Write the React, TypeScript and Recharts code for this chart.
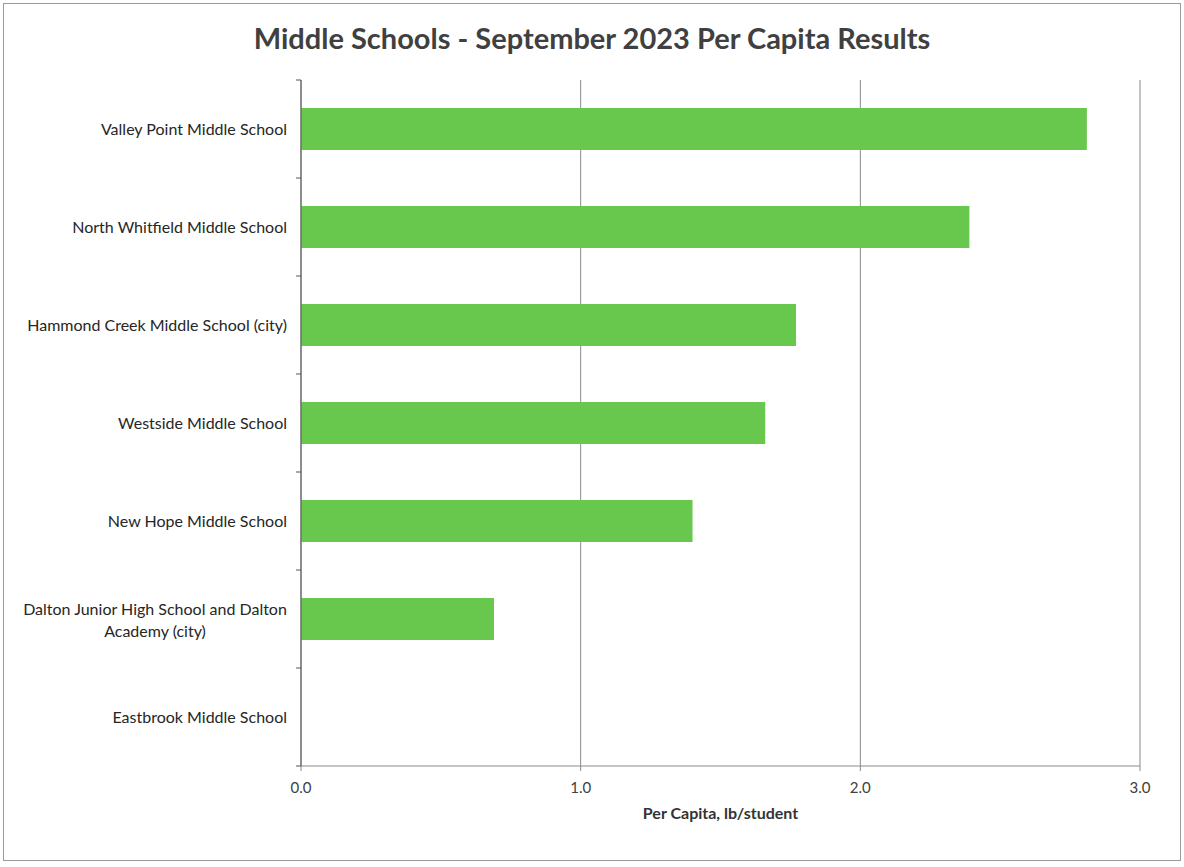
import React from 'react';
import { BarChart, Bar, XAxis, YAxis, CartesianGrid } from 'recharts';

const schools = [
  'Valley Point Middle School',
  'North Whitfield Middle School',
  'Hammond Creek Middle School (city)',
  'Westside Middle School',
  'New Hope Middle School',
  'Dalton Junior High School and Dalton Academy (city)',
  'Eastbrook Middle School',
];
const perCapita = [2.81, 2.39, 1.77, 1.66, 1.4, 0.69, 0];
const xTicks = [0, 1, 2, 3];

const W = 1184;
const H = 867;
const MARGIN = { top: 80, right: 44, bottom: 71, left: 0 };
const Y_AXIS_W = 301;
const X_AXIS_H = 30;
const FONT = 'Lato, "Open Sans", sans-serif';

const PLOT_H = H - MARGIN.top - MARGIN.bottom - X_AXIS_H;
const BAND = PLOT_H / schools.length;

// wrap long names into lines of ~36 chars
const wrap = (s: string, max = 36) => {
  const words = s.split(' ');
  const lines: string[] = [];
  let cur = '';
  words.forEach(w => {
    const next = cur ? cur + ' ' + w : w;
    if (next.length > max && cur) {
      lines.push(cur);
      cur = w;
    } else cur = next;
  });
  if (cur) lines.push(cur);
  return lines;
};

const SchoolTick = (props: any) => {
  const { x, y, payload, index } = props;
  const lines = wrap(payload.value);
  const axisX = x + 8;
  const last = index === schools.length - 1;
  const textX = axisX - 14;
  return (
    <g>
      <line x1={axisX - 5} x2={axisX} y1={y - BAND / 2} y2={y - BAND / 2} stroke="#555" />
      {last && <line x1={axisX - 5} x2={axisX} y1={y + BAND / 2} y2={y + BAND / 2} stroke="#555" />}
      {lines.length === 1 ? (
        <text x={textX} y={y} dy="0.35em" textAnchor="end" fill="#262626" fontSize={16} fontFamily={FONT}>
          {lines[0]}
        </text>
      ) : (
        <text x={textX - 132} y={y} textAnchor="middle" fill="#262626" fontSize={16} fontFamily={FONT}>
          {lines.map((l, i) => (
            <tspan key={i} x={textX - 132} dy={i === 0 ? '-0.25em' : '1.4em'}>
              {l}
            </tspan>
          ))}
        </text>
      )}
    </g>
  );
};

export default function App() {
  const data = schools.map((name, i) => ({ name, value: perCapita[i] }));
  return (
    <div
      style={{
        position: 'absolute',
        left: 0,
        top: 0,
        width: W,
        height: H,
        background: '#fff',
        fontFamily: FONT,
      }}
    >
      <div
        style={{
          position: 'absolute',
          left: 3,
          top: 3,
          width: 1178,
          height: 858,
          border: '1px solid #9a9a9a',
          boxSizing: 'border-box',
        }}
      />
      <div
        style={{
          position: 'absolute',
          top: 19,
          left: 0,
          width: W,
          textAlign: 'center',
          fontSize: 29,
          fontWeight: 700,
          color: '#404040',
          lineHeight: '38px',
        }}
      >
        Middle Schools - September 2023 Per Capita Results
      </div>
      <BarChart width={W} height={H} data={data} layout="vertical" margin={MARGIN}>
        <CartesianGrid horizontal={false} stroke="#8a8a8a" />
        <XAxis
          type="number"
          domain={[0, 3]}
          ticks={xTicks}
          tickFormatter={(v: number) => v.toFixed(1)}
          height={X_AXIS_H}
          axisLine={{ stroke: '#8a8a8a' }}
          tickLine={{ stroke: '#8a8a8a' }}
          tickSize={5}
          tickMargin={11}
          tick={{ fill: '#404040', fontSize: 15, fontFamily: FONT }}
          label={{
            value: 'Per Capita, lb/student',
            position: 'bottom',
            offset: 12,
            fill: '#333',
            fontSize: 16,
            fontWeight: 700,
            fontFamily: FONT,
          }}
        />
        <YAxis
          type="category"
          dataKey="name"
          width={Y_AXIS_W}
          axisLine={{ stroke: '#555' }}
          tickLine={false}
          tick={<SchoolTick />}
          interval={0}
        />
        <Bar dataKey="value" fill="#68C84E" barSize={42} isAnimationActive={false} />
      </BarChart>
    </div>
  );
}
